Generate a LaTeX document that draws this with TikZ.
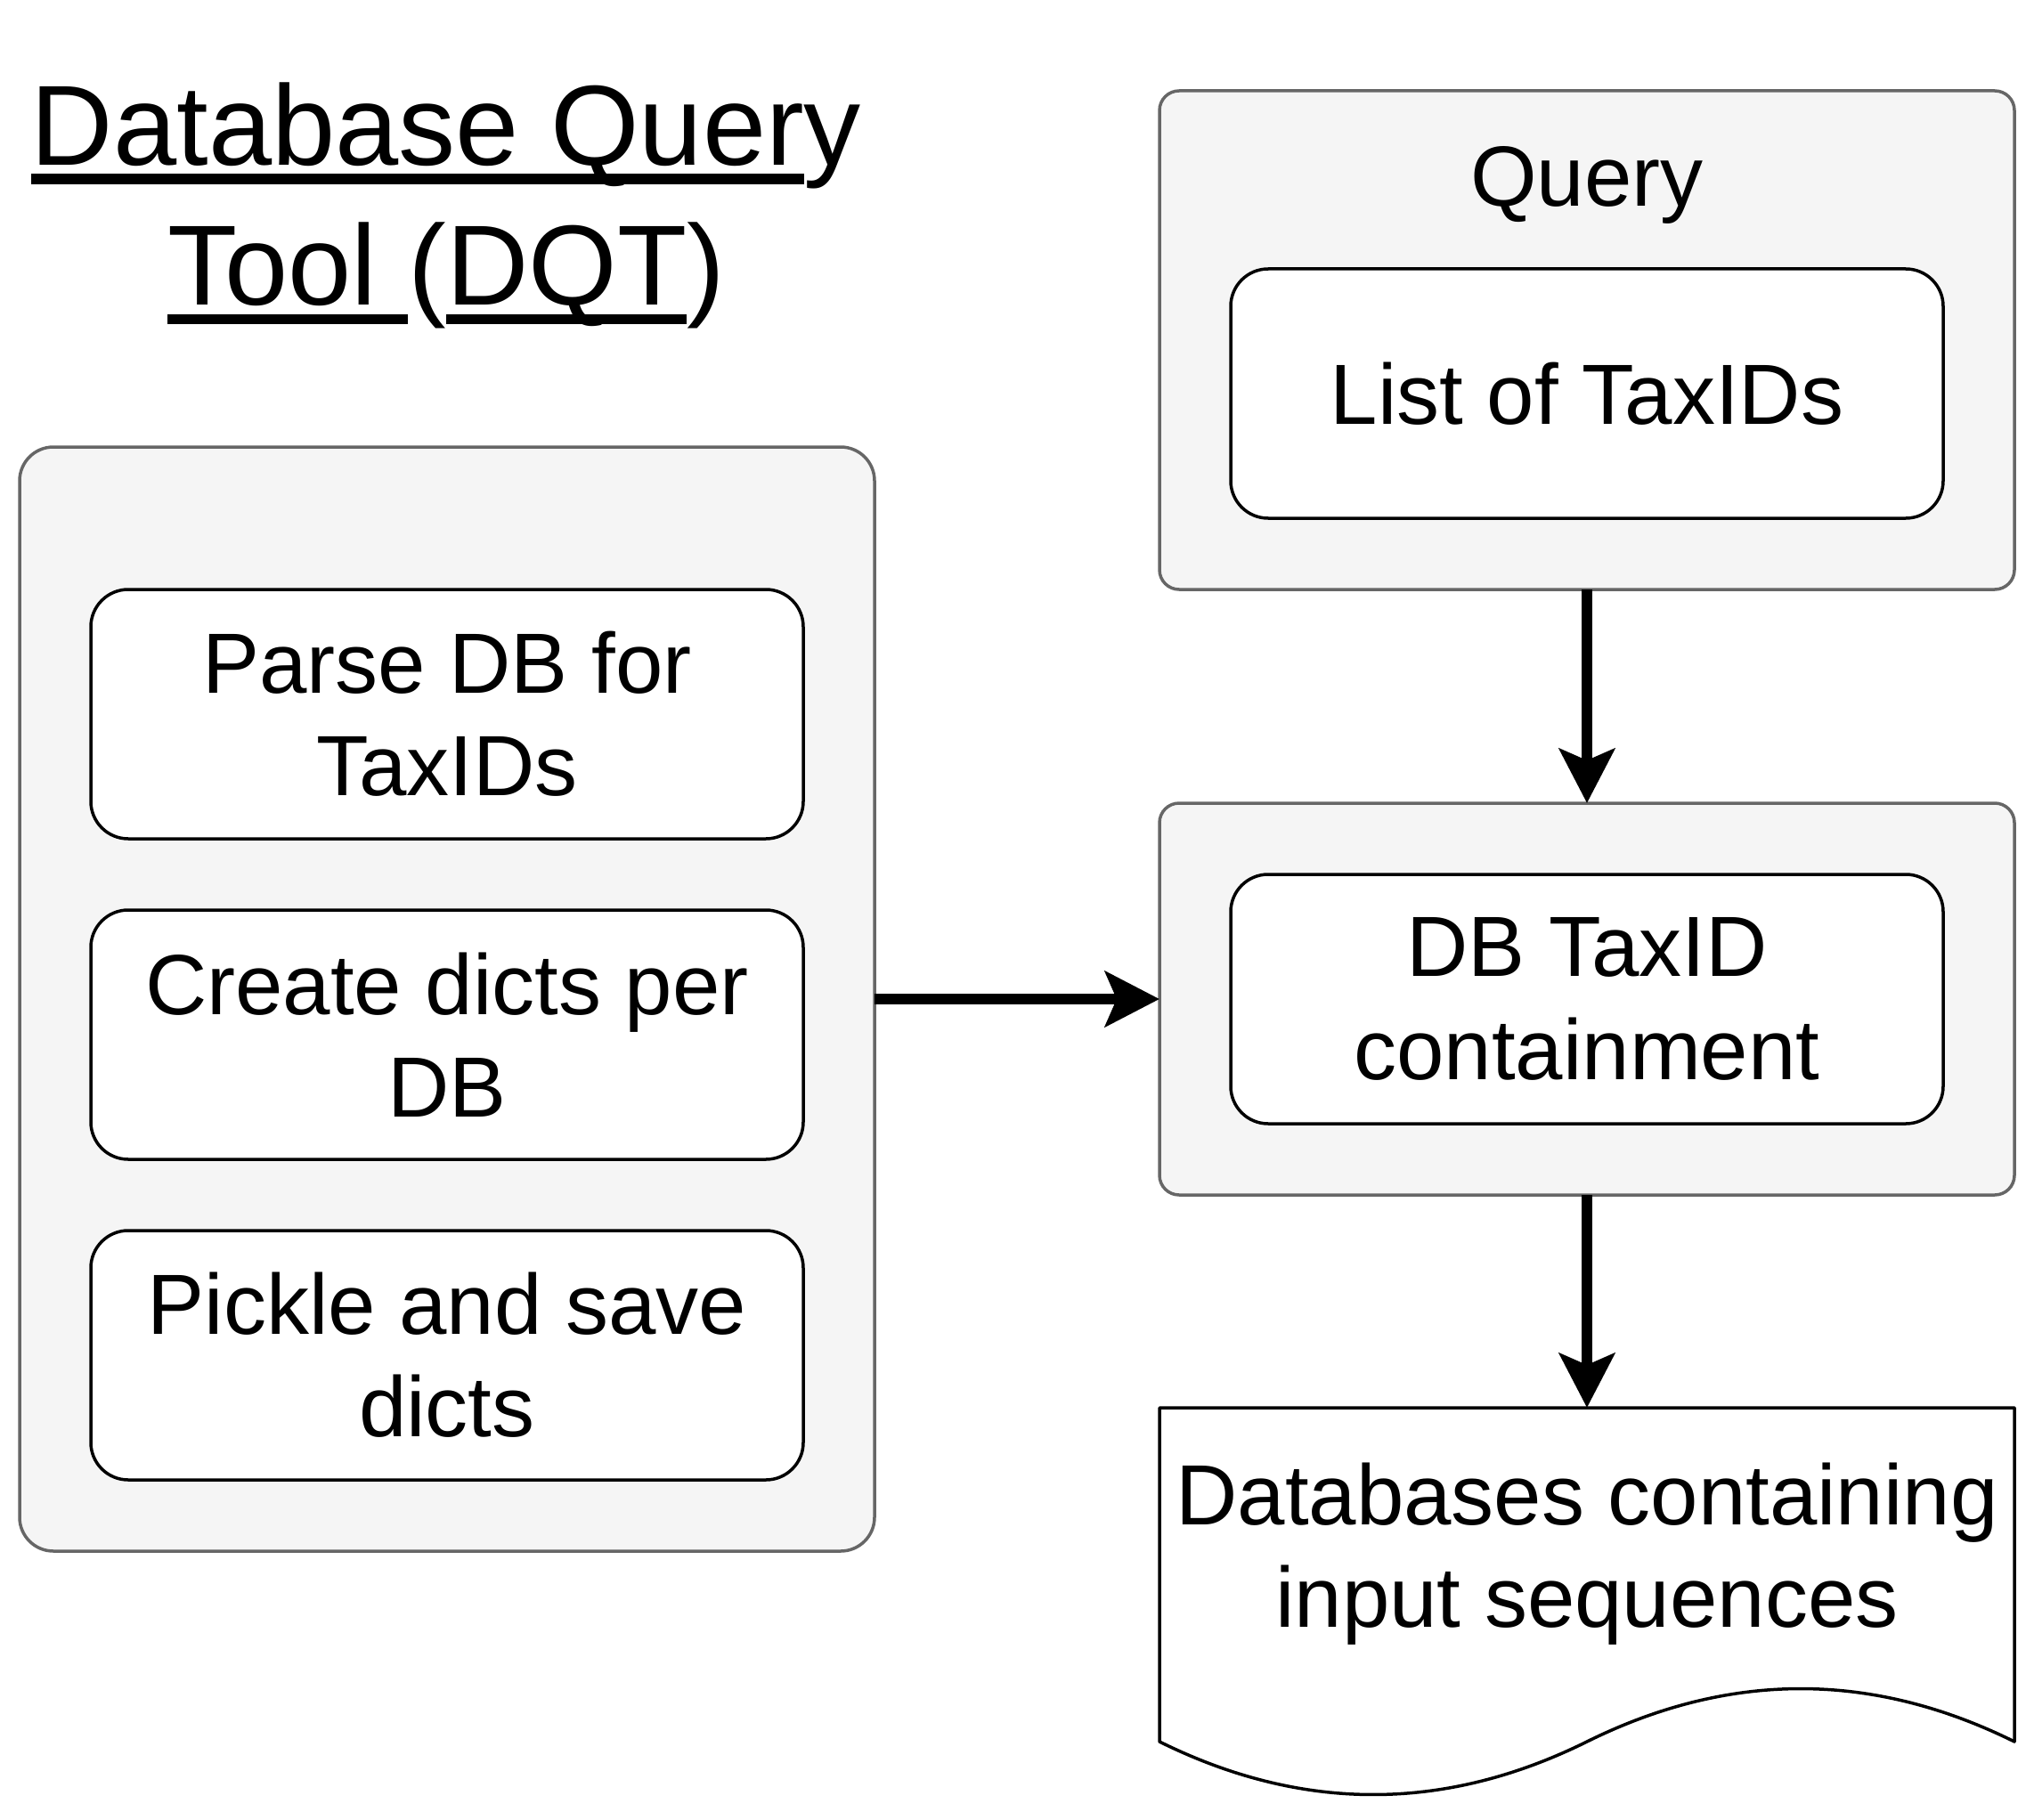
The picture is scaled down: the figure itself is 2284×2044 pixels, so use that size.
\documentclass[tikz,border=0pt]{standalone}
\usepackage{fontspec}
\setmainfont{Liberation Sans}
\usetikzlibrary{arrows.meta}
\definecolor{groupfill}{HTML}{F5F5F5}
\definecolor{groupline}{HTML}{666666}
\newcommand\stepfont{\fontsize{96}{115.2}\selectfont}
\newcommand\titlefont{\fontsize{128}{157}\selectfont}
\newcommand\ulword[1]{\setbox0\hbox{#1}\rlap{\rule[-21pt]{\wd0}{11.5pt}}\box0}
\begin{document}
\begin{tikzpicture}
[x=1pt,y=-1pt,
  groupdecorate/.style={shape=rectangle,draw=groupline,fill=groupfill,line width=3.5pt,%
    rounded corners=22pt,inner sep=0pt,outer sep=0pt,minimum width=960pt},%
  stepdecorate/.style={shape=rectangle,draw=black,fill=white,line width=3.5pt,%
    rounded corners=42pt,inner sep=0pt,outer sep=0pt,minimum width=800pt,%
    minimum height=280pt,align=center,font=\stepfont},%
  arrowdecorate/.style={-{Stealth[length=61pt,width=62pt,inset=13pt]},line width=12pt},%
  docdecorate/.style={draw=black,line width=3.5pt,line join=round}]
\useasboundingbox (0,0) rectangle (2284,2044);
%% title
\node (titletop) at (501,186) [anchor=base,font=\titlefont] {\ulword{Database Quer}y};
\node (titlebot) at (501,343) [anchor=base,font=\titlefont] {\ulword{Tool }(\ulword{DQT})};
%% groups
\node (dbtool) at (502,1122) [groupdecorate,minimum height=1240pt,rounded corners=38pt] {};
\node (querybox) at (1782,382) [groupdecorate,minimum height=560pt] {};
\node (containbox) at (1782,1122) [groupdecorate,minimum height=440pt] {};
\node (querylabel) at (1782,232) [anchor=base,font=\stepfont] {Query};
%% steps
\foreach \nodename/\x/\y/\steptext in {parse/502/802/{Parse DB for\\TaxIDs},
  dicts/502/1162/{Create dicts per\\DB}, pickle/502/1522/{Pickle and save\\dicts},
  taxids/1782/442/{List of TaxIDs}, dbtaxid/1782/1122/{DB TaxID\\containment}} {
  \node (\nodename) at (\x,\y) [stepdecorate] {\steptext};
}
%% output document
\node (outdoc) at (1782,1745.5) [shape=rectangle,inner sep=0pt,outer sep=0pt,%
  minimum width=960pt,minimum height=329pt,align=center,font=\stepfont]
  {Databases containing\\input sequences};
\draw[docdecorate] (1302,1581) -- (2262,1581) -- (2262,1956)
  .. controls (2102,1876.7) and (1942,1876.7) .. (1782,1956)
  .. controls (1622,2035.3) and (1462,2035.3) .. (1302,1956) -- cycle;
%% arrows
\path
\foreach \startnode/\endnode in {querybox/containbox, dbtool/containbox, containbox/outdoc} {
  (\startnode) edge[arrowdecorate] (\endnode)
};
\end{tikzpicture}
\end{document}
